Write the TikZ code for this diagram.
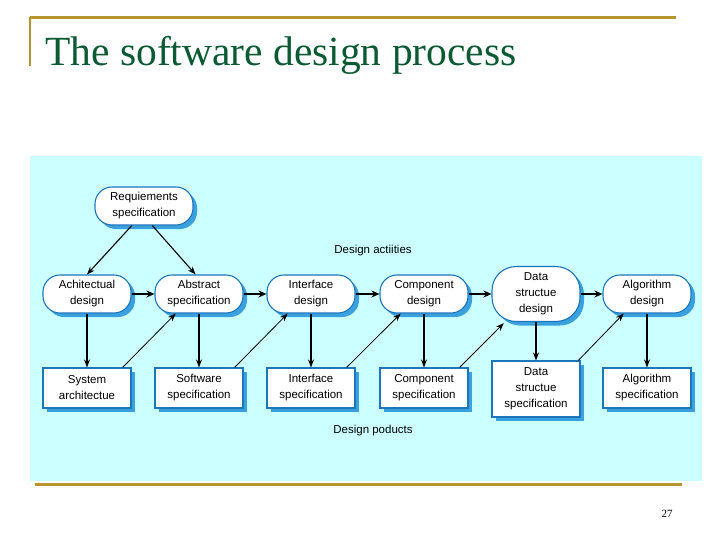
\documentclass[tikz,border=0pt]{standalone}
\usepackage{fontspec}
\setmainfont{Liberation Serif}
\newfontfamily\diagfont{Liberation Sans}
\usetikzlibrary{arrows.meta,shadows}
\definecolor{slidegold}{RGB}{184,150,46}
\definecolor{titlegreen}{RGB}{11,90,51}
\definecolor{panelcyan}{RGB}{204,255,255}
\definecolor{edgeblue}{RGB}{28,118,188}
\definecolor{shadeblue}{RGB}{58,160,222}
\begin{document}
\begin{tikzpicture}[x=1pt, y=-1pt,
	activity/.style={draw=edgeblue, line width=1.1pt, fill=white, text=black, shape=rectangle, rounded corners=17pt, minimum width=88pt, minimum height=38pt, align=center, font=\diagfont\fontsize{11.5}{16}\selectfont, drop shadow={shadow xshift=4pt, shadow yshift=-4pt, fill=shadeblue, opacity=1}},
	product/.style={draw=edgeblue, line width=1.1pt, fill=white, text=black, shape=rectangle, minimum width=88pt, minimum height=40pt, align=center, font=\diagfont\fontsize{11.5}{16}\selectfont, drop shadow={shadow xshift=4pt, shadow yshift=-4pt, fill=shadeblue, opacity=1}},
	flowarrow/.style={line width=1.8pt, -{Stealth[length=8pt, width=7pt]}},
	downarrow/.style={line width=1.1pt, -{Stealth[length=8pt, width=6pt]}},
	feedarrow/.style={line width=0.8pt, -{Stealth[length=8pt, width=6pt]}}]
	\useasboundingbox (0,0) rectangle (717,538);
	\draw[slidegold, line width=3pt] (30,17) -- (676,17);
	\draw[slidegold, line width=2pt] (30,17) -- (30,66);
	\node[anchor=base west, inner sep=0pt, text=titlegreen, font=\fontsize{41.5}{41.5}\selectfont] (title) at (45,65) {The software design process};

	\fill[panelcyan] (30,156) rectangle (702,481);
	\draw[slidegold, line width=3pt] (35,484) -- (682,484);
	\node[font=\fontsize{11}{11}\selectfont] (pagenum) at (667,514) {27};

	\node[activity, minimum width=98pt] (req) at (144,206) {Requiements\\specification};

	\node[activity] (a_1) at (87,294) {Achitectual\\design};
	\node[activity] (a_2) at (199,294) {Abstract\\specification};
	\node[activity] (a_3) at (311,294) {Interface\\design};
	\node[activity] (a_4) at (424,294) {Component\\design};
	\node[activity, minimum height=55pt, rounded corners=24pt] (a_5) at (536,294) {Data\\structue\\design};
	\node[activity] (a_6) at (647,294) {Algorithm\\design};

	\node[product] (p_1) at (87,388) {System\\architectue};
	\node[product] (p_2) at (199,388) {Software\\specification};
	\node[product] (p_3) at (311,388) {Interface\\specification};
	\node[product] (p_4) at (424,388) {Component\\specification};
	\node[product, minimum height=56pt] (p_5) at (536,389) {Data\\structue\\specification};
	\node[product] (p_6) at (647,388) {Algorithm\\specification};

	\node[font=\diagfont\fontsize{11.5}{13}\selectfont] (actlabel) at (373,251) {Design actiities};
	\node[font=\diagfont\fontsize{11.5}{13}\selectfont] (prodlabel) at (373,431) {Design poducts};

	\draw[downarrow] (req.238) -- (a_1.north);
	\draw[downarrow] (req.293) -- (a_2.100);

	\draw[flowarrow] (a_1.east) -- (a_2.west);
	\draw[flowarrow] (a_2.east) -- (a_3.west);
	\draw[flowarrow] (a_3.east) -- (a_4.west);
	\draw[flowarrow] (a_4.east) -- (a_5.west);
	\draw[flowarrow] (a_5.east) -- (a_6.west);

	\draw[downarrow] (a_1.south) -- (p_1.north);
	\draw[downarrow] (a_2.south) -- (p_2.north);
	\draw[downarrow] (a_3.south) -- (p_3.north);
	\draw[downarrow] (a_4.south) -- (p_4.north);
	\draw[downarrow] (a_5.south) -- (p_5.north);
	\draw[downarrow] (a_6.south) -- (p_6.north);

	\draw[feedarrow] (p_1.30) -- (a_2.220);
	\draw[feedarrow] (p_2.30) -- (a_3.220);
	\draw[feedarrow] (p_3.30) -- (a_4.220);
	\draw[feedarrow, shorten >=1.5pt] (p_4.30) -- (a_5.222);
	\draw[feedarrow] (p_5.34) -- (a_6.220);
\end{tikzpicture}
\end{document}
